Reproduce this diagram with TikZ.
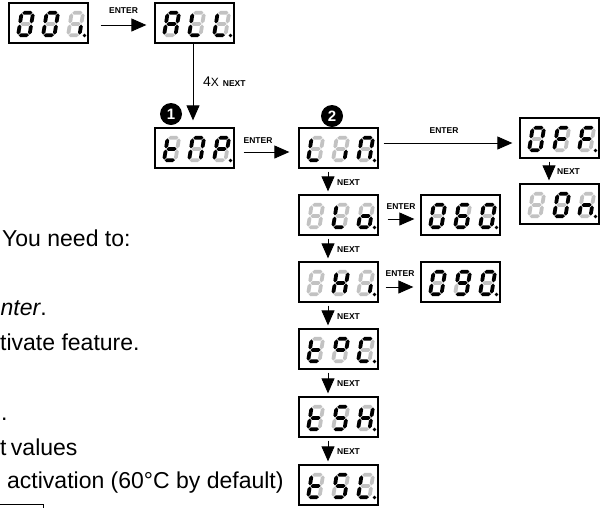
\documentclass[tikz,border=0pt]{standalone}
\usepackage{fontspec}
\setmainfont{Liberation Sans}
\usetikzlibrary{arrows.meta,calc}
\definecolor{ghost}{HTML}{C2C2C2}
\makeatletter
\newcommand{\sgline}[3]{%
  \in@{#1}{#2}\ifin@\def\sgcol{black}\else\def\sgcol{ghost}\fi
  \fill[fill=\sgcol] #3;}
\makeatother
\newcommand{\sgdigit}[3]{%
 \begin{scope}[shift={(#1,#2)}, xslant=0.16]
  \sgline{a}{#3}{(2.4,-24.2) -- ++(1.9,1.9) -- ++(6.4,0) -- ++(1.9,-1.9) -- ++(-1.9,-1.9) -- ++(-6.4,0) -- cycle}
  \sgline{g}{#3}{(2.4,-13) -- ++(1.9,1.9) -- ++(6.4,0) -- ++(1.9,-1.9) -- ++(-1.9,-1.9) -- ++(-6.4,0) -- cycle}
  \sgline{d}{#3}{(2.4,-1.8) -- ++(1.9,1.9) -- ++(6.4,0) -- ++(1.9,-1.9) -- ++(-1.9,-1.9) -- ++(-6.4,0) -- cycle}
  \sgline{e}{#3}{(1.8,-2.4) -- ++(1.9,-1.9) -- ++(0,-6.2) -- ++(-1.9,-1.9) -- ++(-1.9,1.9) -- ++(0,6.2) -- cycle}
  \sgline{f}{#3}{(1.8,-13.6) -- ++(1.9,-1.9) -- ++(0,-6.2) -- ++(-1.9,-1.9) -- ++(-1.9,1.9) -- ++(0,6.2) -- cycle}
  \sgline{c}{#3}{(13.2,-2.4) -- ++(1.9,-1.9) -- ++(0,-6.2) -- ++(-1.9,-1.9) -- ++(-1.9,1.9) -- ++(0,6.2) -- cycle}
  \sgline{b}{#3}{(13.2,-13.6) -- ++(1.9,-1.9) -- ++(0,-6.2) -- ++(-1.9,-1.9) -- ++(-1.9,1.9) -- ++(0,6.2) -- cycle}
 \end{scope}}
\newcommand{\disp}[6]{%
  \node[dbox] (#1) at ({#2+39.5},{#3+20}) {};
  \sgdigit{#2+7}{#3+34}{#4}
  \sgdigit{#2+32}{#3+34}{#5}
  \sgdigit{#2+57}{#3+34}{#6}
  \fill ({#2+75.5},{#3+32.5}) circle (1.9);}
\tikzset{
 dbox/.style={draw, line width=1.3pt, minimum width=79pt, minimum height=40pt, inner sep=0pt},
 arr/.style={line width=0.9pt, -{Triangle[width=13pt,length=15pt]}},
 lbl/.style={font=\fontsize{8.5}{8.5}\selectfont\bfseries, inner sep=0pt},
 num/.style={circle, fill=black, text=white, minimum size=22pt, inner sep=0pt, font=\fontsize{15}{15}\selectfont\bfseries},
 body/.style={font=\fontsize{23}{23}\selectfont, anchor=base west, inner sep=0pt},
}
\begin{document}
\begin{tikzpicture}[x=1pt,y=-1pt]
\useasboundingbox (0,0) rectangle (602,507);
\clip (0,0) rectangle (602,507);
\disp{b001}{9}{3}{abcdef}{abcdef}{c}
\disp{ball}{155}{3}{abcefg}{def}{def}
\disp{btnp}{155}{128}{defg}{abcef}{abefg}
\disp{blin}{299}{128}{def}{c}{abcef}
\disp{blo}{299}{195}{}{def}{cdeg}
\disp{bsixty}{421}{195}{abcdef}{acdefg}{abcdef}
\disp{bhi}{299}{262}{}{bcefg}{c}
\disp{bninety}{421}{262}{abcdef}{abcdfg}{abcdef}
\disp{btpc}{299}{329}{defg}{abfg}{adef}
\disp{btsh}{299}{397}{defg}{acdfg}{bcefg}
\disp{btsl}{299}{465}{defg}{acdfg}{def}
\disp{boff}{520}{118}{abcdef}{aefg}{aefg}
\disp{bon}{520}{184}{}{abcdef}{ceg}
% arrows
\draw[arr, shorten <=12pt, shorten >=8pt] ([yshift=-2pt]b001.east) -- ([yshift=-2pt]ball.west);
\node[lbl] (l1) at (123.5,11) {ENTER};
\draw[arr, shorten >=7pt] ([xshift=-1.5pt]ball.south) -- ([xshift=-1.5pt]btnp.north);
\node[anchor=base west, inner sep=0pt] (l2) at (203,86) {\fontsize{14}{14}\selectfont 4{\fontsize{12}{12}\selectfont X} {\bfseries\fontsize{8.5}{8.5}\selectfont NEXT}};
\draw[arr, shorten <=9pt, shorten >=9pt] ([yshift=-4pt]btnp.east) -- ([yshift=-4pt]blin.west);
\node[lbl] (l3) at (258,141) {ENTER};
\draw[arr, shorten <=5pt, shorten >=7pt] ([yshift=5pt]blin.east) -- ([yshift=-5pt]boff.west);
\node[lbl] (l4) at (444,131) {ENTER};
\draw[arr, shorten <=3pt, shorten >=3pt] ([xshift=-10.5pt]boff.south) -- ([xshift=-10.5pt]bon.north);
\node[lbl, anchor=west] (l5) at (557,172) {NEXT};
\draw[arr, shorten <=3pt, shorten >=3pt] ([xshift=-10.5pt]blin.south) -- ([xshift=-10.5pt]blo.north);
\node[lbl, anchor=west] (l6) at (337,183) {NEXT};
\draw[arr, shorten <=3pt, shorten >=3pt] ([xshift=-10.5pt]blo.south) -- ([xshift=-10.5pt]bhi.north);
\node[lbl, anchor=west] (l7) at (337,250) {NEXT};
\draw[arr, shorten <=3pt, shorten >=3pt] ([xshift=-10.5pt]bhi.south) -- ([xshift=-10.5pt]btpc.north);
\node[lbl, anchor=west] (l8) at (337,317) {NEXT};
\draw[arr, shorten <=3pt, shorten >=3pt] ([xshift=-10.5pt]btpc.south) -- ([xshift=-10.5pt]btsh.north);
\node[lbl, anchor=west] (l9) at (337,384) {NEXT};
\draw[arr, shorten <=3pt, shorten >=3pt] ([xshift=-10.5pt]btsh.south) -- ([xshift=-10.5pt]btsl.north);
\node[lbl, anchor=west] (l10) at (337,452) {NEXT};
\draw[arr, shorten <=9pt, shorten >=6pt] ([yshift=-4pt]blo.east) -- ([yshift=-4pt]bsixty.west);
\node[lbl] (l11) at (401,207) {ENTER};
\draw[arr, shorten <=7pt, shorten >=7pt] ([yshift=-5pt]bhi.east) -- ([yshift=-5pt]bninety.west);
\node[lbl] (l12) at (400,274) {ENTER};
% numbered circles
\node[num] (n1) at (171,114) {1};
\node[num] (n2) at (332,116) {2};
% body text
\node[body] (t1) at (2,246.7) {You need to:};
\node[body] (t2) at (0.5,315) {\textit{nter}.};
\node[body] (t3) at (0,350) {tivate feature.};
\node[body] (t4) at (1,420) {.};
\node[body] (t5) at (0,455) {t\kern-2pt\ values};
\node[body] (t6) at (7,488) {activation (60°C by default)};
\draw[line width=1pt] (0,504) -- (43,504) -- (43,508);
\end{tikzpicture}
\end{document}
